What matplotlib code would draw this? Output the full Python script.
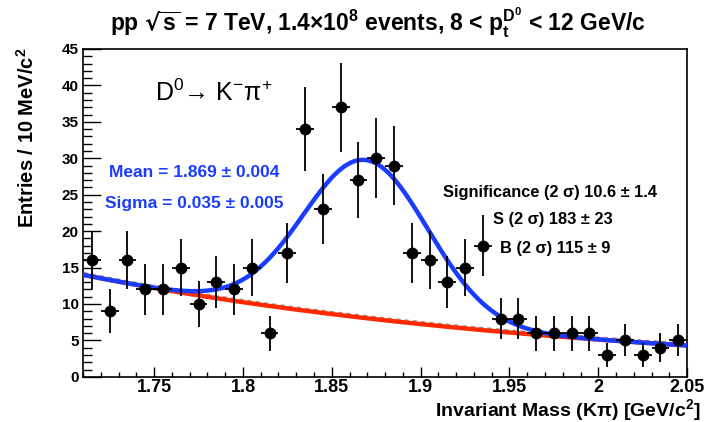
import matplotlib
matplotlib.use("Agg")
import matplotlib.pyplot as plt
import numpy as np
from matplotlib.ticker import MultipleLocator

plt.rcParams['font.family'] = ['Liberation Sans', 'DejaVu Sans']
plt.rcParams['font.weight'] = 'bold'
plt.rcParams['mathtext.default'] = 'regular'

# bin centres (10 MeV bins) and counts
mass = [1.715, 1.725, 1.735, 1.745, 1.755, 1.765, 1.775, 1.785, 1.795, 1.805,
        1.815, 1.825, 1.835, 1.845, 1.855, 1.865, 1.875, 1.885, 1.895, 1.905,
        1.915, 1.925, 1.935, 1.945, 1.955, 1.965, 1.975, 1.985, 1.995, 2.005,
        2.015, 2.025, 2.035, 2.045]
counts = [16, 9, 16, 12, 12, 15, 10, 13, 12, 15,
          6, 17, 34, 23, 37, 27, 30, 29, 17, 16,
          13, 15, 18, 8, 8, 6, 6, 6, 6, 3,
          5, 3, 4, 5]
errors = [4.0, 3.0, 4.0, 3.5, 3.5, 3.9, 3.2, 3.6, 3.5, 3.9,
          2.4, 4.1, 5.8, 4.8, 6.1, 5.2, 5.5, 5.4, 4.1, 4.0,
          3.6, 3.9, 4.2, 2.8, 2.8, 2.4, 2.4, 2.4, 2.4, 1.7,
          2.2, 1.7, 2.0, 2.2]
bin_half = 0.005

# fit parameters: exponential background + gaussian
bkg_norm = 14.0      # background at 1.71
bkg_slope = -3.47
peak_amp = 21.7
peak_mean = 1.869
peak_sigma = 0.035

xmin, xmax = 1.71, 2.05

fig = plt.figure(figsize=(7.04, 4.22), dpi=100)
ax = fig.add_axes([0.118, 0.107, 0.858, 0.777])

xs = np.linspace(xmin, xmax, 400)
bkg = bkg_norm * np.exp(bkg_slope * (xs - xmin))
total = bkg + peak_amp * np.exp(-0.5 * ((xs - peak_mean) / peak_sigma) ** 2)

ax.plot(xs, bkg + 0.15, color='#999999', lw=3, ls=(0, (1, 1)), zorder=2)
ax.plot(xs, bkg, color='#ff2a00', lw=3.2, zorder=3)
ax.plot(xs, total, color='#1a3cff', lw=3.2, zorder=4)

ax.errorbar(mass, counts, yerr=errors, xerr=bin_half, fmt='o', color='black',
            ms=7.5, elinewidth=1.3, capsize=0, zorder=5)

ax.set_xlim(xmin, xmax)
ax.set_ylim(0, 45)
ax.xaxis.set_minor_locator(MultipleLocator(0.01))
ax.yaxis.set_major_locator(MultipleLocator(5))
ax.yaxis.set_minor_locator(MultipleLocator(1))
ax.set_xticks([1.75, 1.8, 1.85, 1.9, 1.95, 2.0, 2.05])
ax.set_xticklabels(['1.75', '1.8', '1.85', '1.9', '1.95', '2', '2.05'])
ax.tick_params(axis='x', which='major', direction='in', length=7, width=1,
               labelsize=13, pad=1.5)
ax.tick_params(axis='x', which='minor', direction='in', length=3.5, width=1)
ax.tick_params(axis='y', which='major', direction='in', length=13, width=1,
               labelsize=11, pad=3)
ax.tick_params(axis='y', which='minor', direction='in', length=6.5, width=1)
for s in ax.spines.values():
    s.set_linewidth(1.2)

fig.text(0.537, 0.945, r'pp $\sqrt{s}$ = 7 TeV, 1.4$\times$10$^8$ events, 8 < p$_t^{D^0}$ < 12 GeV/c',
         ha='center', va='center', fontsize=16.5, fontweight='bold')
fig.text(0.995, 0.028, 'Invariant Mass (K\u03c0) [GeV/c$^2$]', ha='right', va='center',
         fontsize=14, fontweight='bold')
fig.text(0.038, 0.888, 'Entries / 10 MeV/c$^2$', ha='center', va='top', rotation=90,
         fontsize=14.5, fontweight='bold')

fig.text(0.220, 0.78, 'D$^0$\u2192 K$^{-}$\u03c0$^{+}$', fontsize=18, fontweight='normal',
         ha='left', va='center')
blue = '#1a3cff'
fig.text(0.2756, 0.592, 'Mean = 1.869 \u00b1 0.004', color=blue, fontsize=12.5,
         fontweight='bold', ha='center', va='center')
fig.text(0.2756, 0.517, 'Sigma = 0.035 \u00b1 0.005', color=blue, fontsize=12.5,
         fontweight='bold', ha='center', va='center')
fig.text(0.629, 0.545, 'Significance (2 \u03c3) 10.6 \u00b1 1.4', fontsize=11.8,
         fontweight='bold', ha='left', va='center')
fig.text(0.700, 0.479, 'S (2 \u03c3) 183 \u00b1 23', fontsize=11.8,
         fontweight='bold', ha='left', va='center')
fig.text(0.710, 0.412, 'B (2 \u03c3) 115 \u00b1 9', fontsize=11.8,
         fontweight='bold', ha='left', va='center')

fig.savefig('out.png', dpi=100)
